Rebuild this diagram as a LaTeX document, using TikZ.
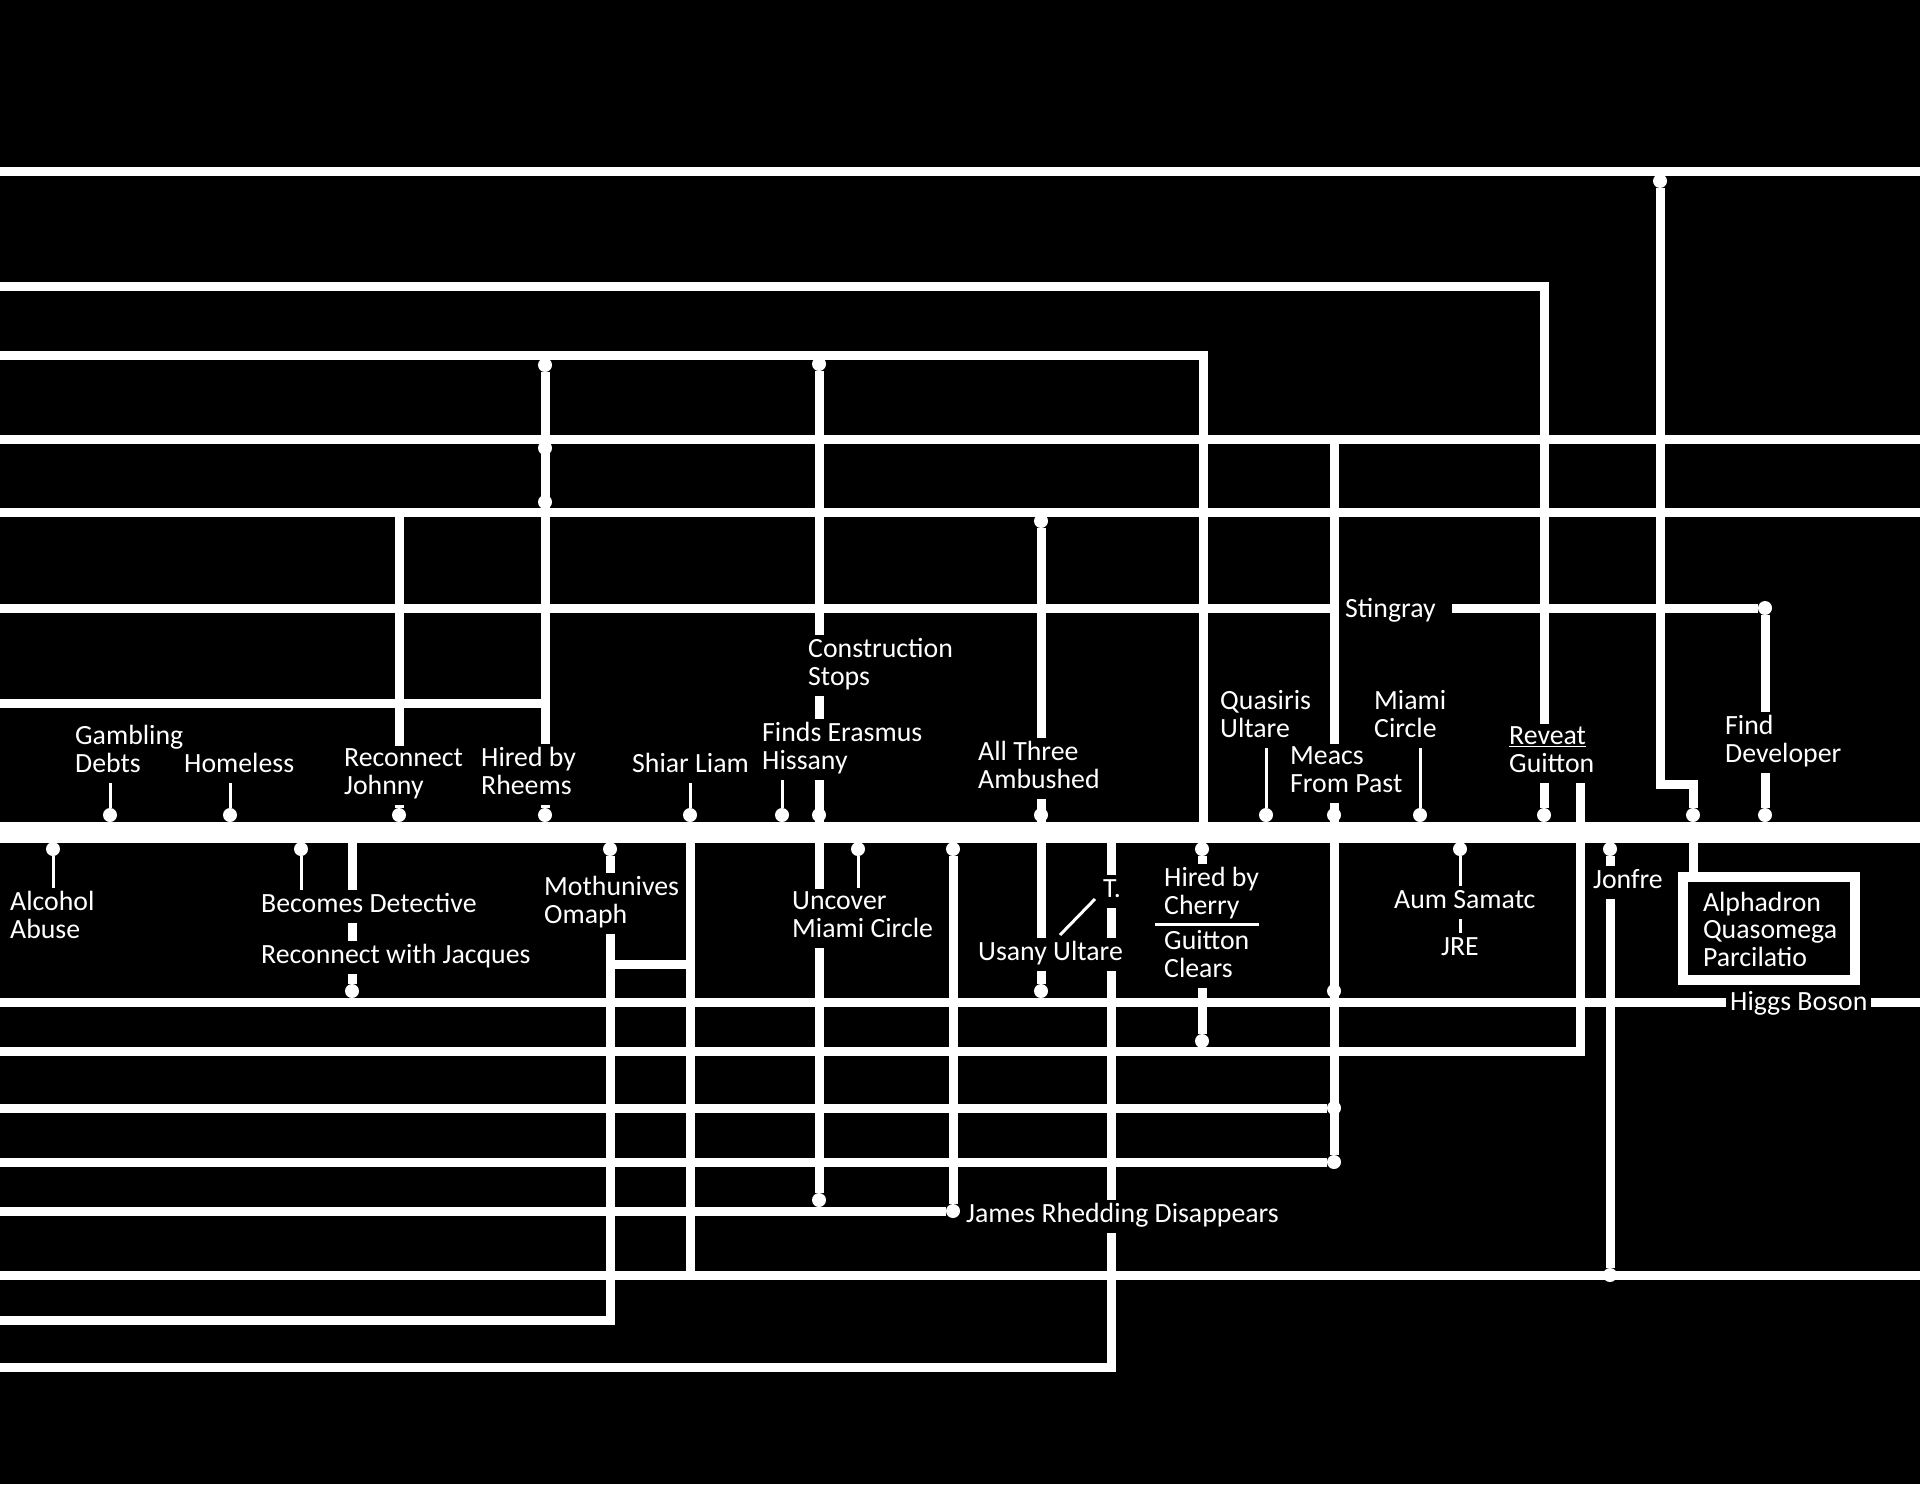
\documentclass[tikz,border=0pt]{standalone}
\usepackage{fontspec}
\setmainfont{Carlito}
\usetikzlibrary{positioning}
\pgfdeclarelayer{front}
\pgfsetlayers{main,front}

\tikzset{
  track/.style={white, line width=9pt},
  spine/.style={white, line width=21pt},
  stem/.style={white, line width=3pt},
  dot/.style={circle, fill=white, inner sep=0pt, minimum size=14pt},
  lbl/.style={text=white, fill=black, inner xsep=4pt, inner ysep=3pt, xshift=-4pt,
    align=left, anchor=base west, font=\fontsize{27.8}{27.5}\selectfont,
    execute at begin node=\strut, execute at end node=\strut},
  boxlbl/.style={draw=white, line width=10pt, fill=black, text=white, inner sep=0pt,
    minimum width=172pt, minimum height=103pt, text width=132pt, align=left,
    font=\fontsize{27.8}{27.5}\selectfont,
    execute at begin node=\rule{0pt}{30pt}, execute at end node=\strut},
}

\begin{document}
\begin{tikzpicture}[x=1pt, y=-1pt, line join=miter]
\fill[black] (0,0) rectangle (1920,1484);
\useasboundingbox (0,0) rectangle (1920,1484);

% left and right ends of the tracks
\foreach \n/\y in {l1/171, l2/286, l3/355, l4/439, l5/512, l6/608, l7/703, main/832,
    b1/1002, b2/1051, b3/1108, b4/1162, b5a/1211, b5/1275, b6/1320, b7/1367}
  \coordinate (w-\n) at (0,\y);
\foreach \n/\y in {l1/171, l4/439, l5/512, main/832, b1/1002, b5/1275}
  \coordinate (e-\n) at (1920,\y);
\coordinate (c-l3) at (1203,832);
\coordinate (c-t) at (1111,832);
\coordinate (c-jog) at (1660,784);
\coordinate (r-gui) at (1580,779);
\coordinate (s-str) at (1452,608);
\coordinate (m-link) at (610,964);
\coordinate (dg1) at (1095,899);
\coordinate (dg2) at (1060,935);
\coordinate (dv1) at (1155,924);
\coordinate (dv2) at (1259,924);

% events on the time line
\foreach \n/\x in {gamb/110, home/230, john/399, rhee/545, shia/690, eras/782, cons/819,
    ambu/1041, quas/1266, meac/1334, miam/1420, reve/1544, alph/1693, find/1765}
  \node[dot] (t-\n) at (\x,815) {};
\foreach \n/\x in {alco/53, dete/301, moth/610, unco/858, jame/953, cher/1202,
    aums/1460, jonf/1610}
  \node[dot] (u-\n) at (\x,849) {};

% junctions on the tracks
\node[dot] (j-rh3) at (545,365) {};
\node[dot] (j-rh4) at (545,448) {};
\node[dot] (j-rh5) at (545,502) {};
\node[dot] (j-co3) at (819,364) {};
\node[dot] (j-am5) at (1041,521) {};
\node[dot] (j-hig) at (1660,181) {};
\node[dot] (j-str) at (1765,608) {};
\node[dot] (j-jac) at (352,991) {};
\node[dot] (j-usa) at (1041,991) {};
\node[dot] (j-mea1) at (1334,991) {};
\node[dot] (j-mea3) at (1334,1108) {};
\node[dot] (j-mea4) at (1334,1162) {};
\node[dot] (j-gui) at (1202,1041) {};
\node[dot] (j-unc) at (819,1200) {};
\node[dot] (j-jam) at (953,1211) {};
\node[dot] (j-jon) at (1610,1275) {};

% labels (multi-line ones sit on their last baseline)
\begin{pgfonlayer}{front}
\node[lbl] (gamb) at (75,772) {Gambling\\Debts};
\node[lbl] (home) at (184,772) {Homeless};
\node[lbl] (john) at (344,794) {Reconnect\\Johnny};
\node[lbl] (rhee) at (481,794) {Hired by\\Rheems};
\node[lbl] (shia) at (632,772) {Shiar Liam};
\node[lbl] (eras) at (762,769) {Finds Erasmus\\Hissany};
\node[lbl] (cons) at (808,685) {Construction\\Stops};
\node[lbl] (ambu) at (978,788) {All Three\\Ambushed};
\node[lbl] (quas) at (1220,737) {Quasiris\\Ultare};
\node[lbl] (meac) at (1290,792) {Meacs\\From Past};
\node[lbl] (miam) at (1374,737) {Miami\\Circle};
\node[lbl] (reve) at (1509,772) {\underline{Reveat}\\Guitton};
\node[lbl] (find) at (1725,762) {Find\\Developer};
\node[lbl] (stin) at (1345,617) {Stingray};
\node[lbl] (alco) at (10,938) {Alcohol\\Abuse};
\node[lbl] (dete) at (261,912) {Becomes Detective};
\node[lbl] (jacq) at (261,963) {Reconnect with Jacques};
\node[lbl] (moth) at (544,923) {Mothunives\\Omaph};
\node[lbl] (unco) at (792,937) {Uncover\\Miami Circle};
\node[lbl] (tdot) at (1103,897) {T.};
\node[lbl] (usan) at (978,960) {Usany Ultare};
\node[lbl] (cher) at (1164,914) {Hired by\\Cherry};
\node[lbl] (gcle) at (1164,977) {Guitton\\Clears};
\node[lbl] (aums) at (1394,908) {Aum Samatc};
\node[lbl] (jre) at (1441,955) {JRE};
\node[lbl] (jonf) at (1593,888) {Jonfre};
\node[lbl] (higg) at (1730,1010) {Higgs Boson};
\node[lbl] (jame) at (966,1222) {James Rhedding Disappears};
\node[boxlbl] (alpha) at (1769,928) {Alphadron\\Quasomega\\Parcilatio};
\draw[stem] (dg1) -- (dg2);
\draw[stem] (dv1) -- (dv2);
\end{pgfonlayer}

% tracks above the time line
\draw[track] (w-l1) -- (e-l1);
\draw[track] (w-l2) -| (t-reve);
\draw[track] (w-l3) -| (c-l3);
\draw[track] (w-l4) -- (e-l4);
\draw[track] (w-l5) -- (e-l5);
\draw[track] (w-l6) -- (w-l6 -| t-meac);
\draw[track] (s-str) -- (j-str);
\draw[track] (w-l7) -- (w-l7 -| t-rhee);
\draw[track] (w-l5 -| t-john) -- (t-john);
\draw[track] (j-rh3) -- (t-rhee);
\draw[track] (j-co3) -- (j-unc);
\draw[track] (j-am5) -- (j-usa);
\draw[track] (w-l4 -| t-meac) -- (j-mea4);
\draw[track] (j-hig) -- (c-jog) -| (t-alph);
\draw[track] (j-str) -- (t-find);

% tracks below the time line
\draw[track] (w-b1) -- (e-b1);
\draw[track] (w-b2) -| (r-gui);
\draw[track] (w-b3) -- (j-mea3);
\draw[track] (w-b4) -- (j-mea4);
\draw[track] (w-b5a) -- (j-jam);
\draw[track] (w-b5) -- (e-b5);
\draw[track] (w-b6) -| (u-moth);
\draw[track] (w-b7) -| (c-t);
\draw[track] (m-link) -- (m-link -| t-shia);
\draw[track] (t-shia) -- (t-shia |- w-b5);
\draw[track] (w-main -| j-jac) -- (j-jac);
\draw[track] (u-jame) -- (j-jam);
\draw[track] (u-jonf) -- (j-jon);
\draw[track] (t-alph) -- (t-alph |- alpha.north);
\draw[track] (u-cher) -- (u-cher |- cher.north);
\draw[track] (u-cher |- gcle.south) -- (j-gui);

% thin stems
\foreach \n in {gamb, home, shia, eras, quas, miam}
  \draw[stem] (t-\n) -- (t-\n |- \n.south);
\foreach \n in {alco, dete, unco, aums}
  \draw[stem] (u-\n) -- (u-\n |- \n.north);
\draw[stem] (u-aums |- aums.south) -- (u-aums |- jre.north);

\draw[spine] (w-main) -- (e-main);
\end{tikzpicture}
\end{document}
